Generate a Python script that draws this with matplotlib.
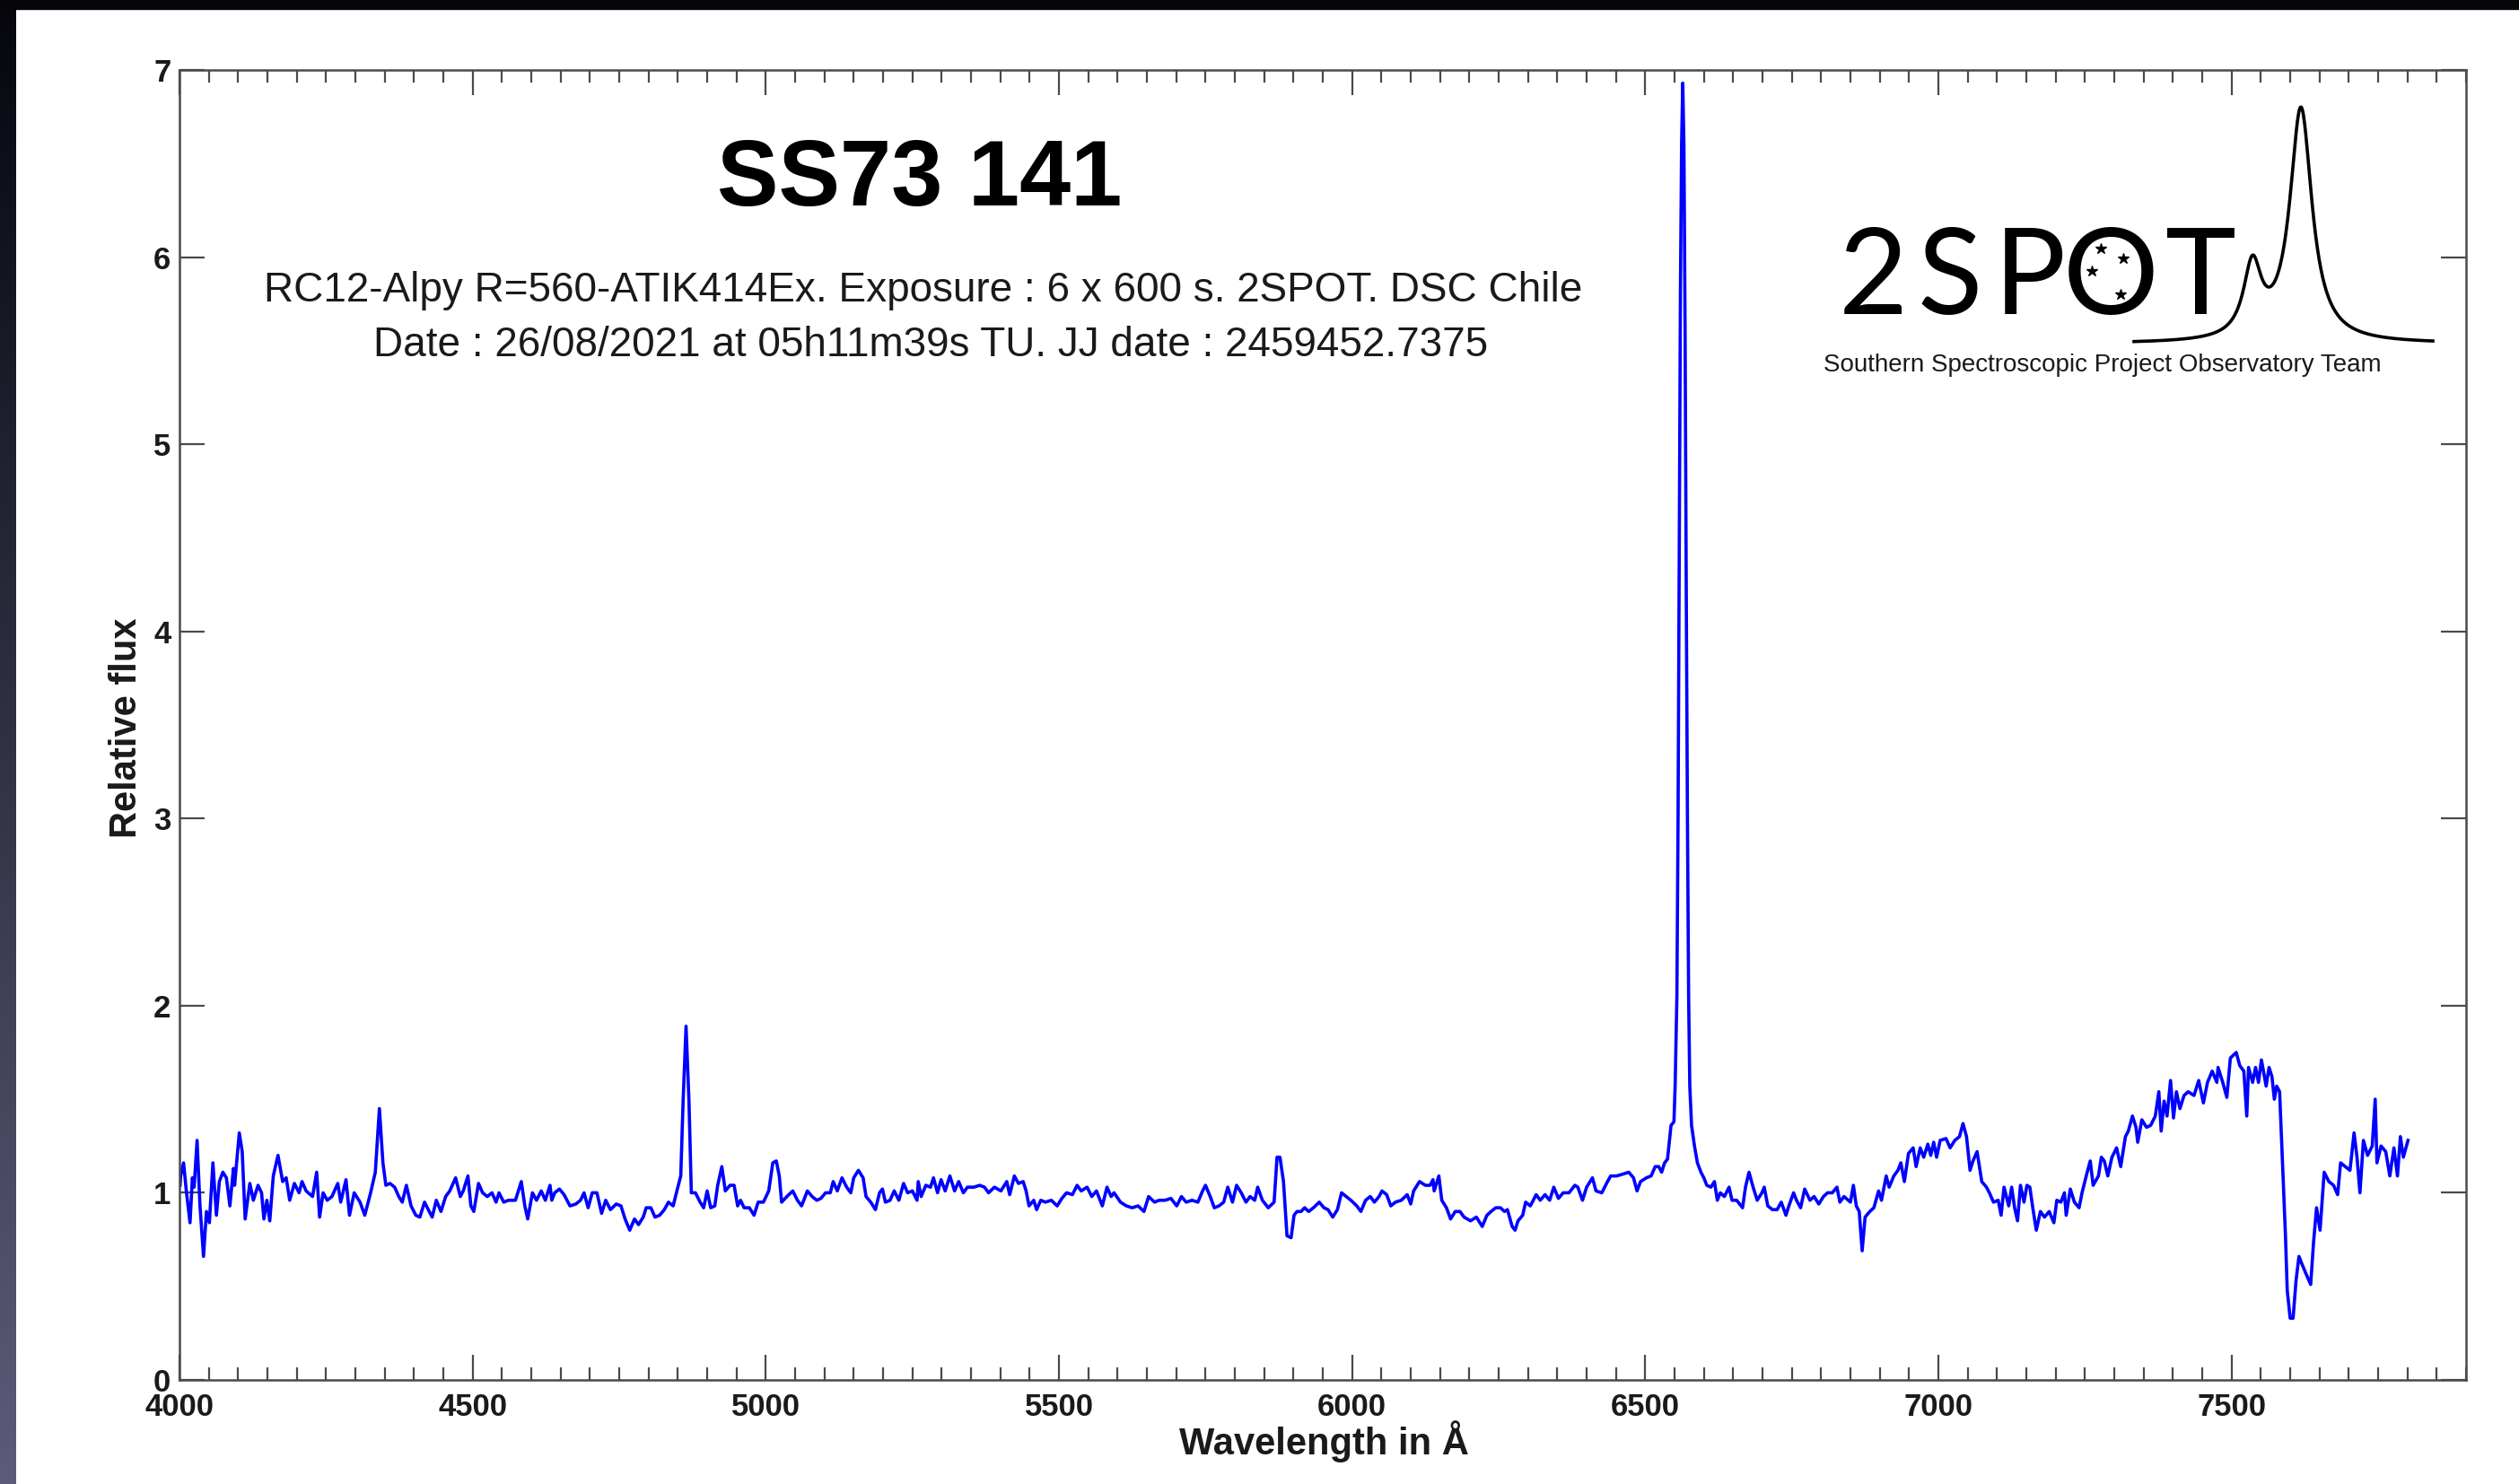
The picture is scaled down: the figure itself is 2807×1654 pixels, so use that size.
import numpy as np
import matplotlib
matplotlib.use("Agg")
import matplotlib.pyplot as plt
from matplotlib.ticker import MultipleLocator

plt.rcParams['font.family'] = ['Liberation Sans', 'DejaVu Sans']

# spectrum (Angstrom, relative flux)
wavelength = [
    4001, 4002, 4007, 4012, 4018, 4022, 4025, 4030, 4035, 4041, 4046, 4051, 4057, 4063, 4068,
    4074, 4080, 4086, 4092, 4094, 4102, 4107, 4112, 4120, 4126, 4134, 4140, 4144, 4149, 4154,
    4160, 4168, 4176, 4182, 4188, 4196, 4204, 4209, 4216, 4227, 4234, 4239, 4245, 4252, 4260,
    4270, 4275, 4284, 4290, 4298, 4308, 4316, 4326, 4334, 4341, 4347, 4352, 4359, 4367, 4374,
    4380, 4387, 4395, 4403, 4410, 4418, 4426, 4431, 4438, 4446, 4454, 4461, 4471, 4479, 4484,
    4492, 4497, 4502, 4510, 4517, 4525, 4533, 4540, 4545, 4553, 4561, 4573, 4583, 4589, 4594,
    4602, 4609, 4617, 4624, 4632,
    4635, 4640, 4648, 4656, 4666, 4676, 4684, 4690, 4697, 4704, 4712, 4720, 4727, 4735, 4745,
    4753, 4760, 4768, 4776, 4783, 4791, 4796, 4804, 4811, 4819, 4827, 4834, 4842, 4850, 4855,
    4859, 4864, 4869, 4873, 4880, 4888, 4894, 4900, 4906, 4913, 4918, 4925, 4931, 4939, 4946,
    4952, 4957, 4963, 4972, 4980, 4987, 4996, 5005, 5012, 5018, 5023, 5027, 5036, 5046, 5054,
    5061, 5071, 5079, 5087, 5094, 5102, 5110, 5115, 5122, 5130, 5138, 5145, 5150, 5158, 5166,
    5171, 5179, 5187, 5194, 5199, 5204, 5212, 5219, 5227, 5235, 5242, 5250, 5258,
    5260, 5265, 5273, 5281, 5286, 5293, 5299, 5306, 5314, 5322, 5329, 5337, 5344, 5355, 5365,
    5373, 5380, 5390, 5401, 5411, 5416, 5424, 5431, 5439, 5444, 5449, 5457, 5462, 5469, 5477,
    5487, 5497, 5505, 5513, 5523, 5531, 5538, 5548, 5556, 5564, 5574, 5582, 5589, 5594, 5605,
    5615, 5625, 5635, 5645, 5653, 5663, 5671, 5681, 5691, 5701, 5709, 5717, 5727, 5737, 5745,
    5750, 5758, 5765, 5773, 5781, 5788, 5796, 5803, 5811, 5819, 5826, 5834, 5839, 5847, 5857,
    5867, 5872, 5877, 5883, 5889,
    5896, 5901, 5906, 5913, 5919, 5926, 5934, 5944, 5952, 5959, 5967, 5975, 5982, 5990, 5998,
    6008, 6015, 6023, 6031, 6038, 6046, 6051, 6059, 6066, 6074, 6084, 6094, 6100, 6105, 6115,
    6125, 6133, 6138, 6140, 6148, 6153, 6161, 6168, 6176, 6184, 6191, 6202, 6212, 6222, 6230,
    6237, 6245, 6253, 6260, 6265, 6273, 6278, 6283, 6291, 6296, 6304, 6314, 6321, 6329, 6337,
    6344, 6352, 6360, 6370, 6380, 6385, 6393, 6400, 6410, 6416, 6426, 6434, 6441, 6451, 6462,
    6472, 6480, 6486, 6492, 6502, 6510, 6517,
    6523, 6528, 6533, 6538, 6544, 6549, 6551, 6554, 6556, 6558, 6560, 6562, 6564, 6566, 6568,
    6570, 6572, 6574, 6576, 6579, 6584, 6589, 6595, 6600, 6605, 6612, 6618, 6623, 6628, 6635,
    6643, 6648, 6656, 6666, 6671, 6677, 6684, 6691, 6699, 6703, 6709, 6717, 6725, 6732, 6740,
    6745, 6753, 6758, 6765, 6772, 6781, 6788, 6796, 6804, 6811, 6819, 6827, 6832, 6839, 6850,
    6855, 6860, 6865, 6870, 6875, 6883, 6890, 6898, 6903, 6911, 6916, 6924, 6931, 6936, 6942,
    6949, 6957, 6962, 6969, 6975, 6982, 6987, 6992, 6997, 7003, 7013, 7020, 7028, 7036, 7042,
    7048, 7054, 7059, 7066, 7074, 7082, 7087, 7094, 7102, 7107, 7112, 7120, 7125, 7130, 7135,
    7140,
    7146, 7151, 7156, 7161, 7167, 7174, 7181, 7189, 7197, 7202, 7209, 7215, 7218, 7225, 7232,
    7240, 7245, 7253, 7259, 7264, 7273, 7278, 7283, 7289, 7296, 7304, 7311, 7319, 7324, 7331,
    7337, 7340, 7347, 7355, 7362, 7370, 7376, 7380, 7385, 7390, 7396, 7401, 7406, 7412, 7419,
    7426, 7436, 7444, 7452, 7459, 7467, 7475, 7477, 7485, 7492, 7498, 7508, 7514, 7521, 7526,
    7529, 7536, 7541, 7546, 7551, 7559, 7564, 7569, 7573, 7577, 7582, 7587, 7592, 7595, 7600,
    7605, 7610, 7615, 7620, 7628, 7635, 7640, 7645, 7651, 7658, 7666, 7674, 7681, 7686, 7694,
    7702, 7709, 7714, 7719, 7725, 7732, 7740, 7745, 7748, 7755, 7763, 7770, 7777, 7783, 7788,
    7793, 7801,
]
flux = [
    1.04, 1.09, 1.16, 1.00, 0.84, 1.08, 1.03, 1.28, 0.93, 0.66, 0.90, 0.84, 1.16, 0.88, 1.06,
    1.11, 1.08, 0.93, 1.13, 1.04, 1.32, 1.22, 0.86, 1.05, 0.96, 1.04, 1.00, 0.86, 0.96, 0.85,
    1.09, 1.20, 1.06, 1.08, 0.96, 1.05, 1.00, 1.06, 1.01, 0.98, 1.11, 0.87, 1.00, 0.96, 0.98,
    1.05, 0.95, 1.07, 0.88, 1.00, 0.95, 0.88, 1.00, 1.11, 1.45, 1.16, 1.04, 1.05, 1.03, 0.98,
    0.95, 1.04, 0.93, 0.88, 0.87, 0.95, 0.90, 0.87, 0.96, 0.90, 0.98, 1.01, 1.08, 0.98, 1.01,
    1.09, 0.93, 0.90, 1.05, 1.00, 0.98, 1.00, 0.95, 1.00, 0.95, 0.96, 0.96, 1.06, 0.93, 0.86,
    1.00, 0.96, 1.01, 0.96, 1.04,
    0.96, 1.00, 1.02, 0.99, 0.93, 0.94, 0.96, 1.00, 0.92, 1.00, 1.00, 0.89, 0.96, 0.91, 0.94,
    0.93, 0.86, 0.80, 0.86, 0.83, 0.87, 0.92, 0.92, 0.87, 0.88, 0.91, 0.95, 0.93, 1.03, 1.09,
    1.49, 1.89, 1.49, 1.00, 1.00, 0.95, 0.92, 1.01, 0.92, 0.93, 1.04, 1.14, 1.01, 1.04, 1.04,
    0.93, 0.96, 0.92, 0.92, 0.88, 0.95, 0.95, 1.01, 1.16, 1.17, 1.09, 0.95, 0.98, 1.01, 0.96,
    0.93, 1.01, 0.98, 0.96, 0.97, 1.00, 1.00, 1.06, 1.01, 1.08, 1.03, 1.00, 1.08, 1.12, 1.08,
    0.98, 0.95, 0.91, 1.00, 1.02, 0.95, 0.96, 1.01, 0.96, 1.05, 1.00, 1.01, 0.96,
    1.06, 0.98, 1.04, 1.03, 1.08, 1.00, 1.07, 1.01, 1.09, 1.01, 1.06, 1.00, 1.03, 1.03, 1.04,
    1.03, 1.00, 1.03, 1.01, 1.06, 0.99, 1.09, 1.05, 1.06, 1.01, 0.93, 0.96, 0.91, 0.96, 0.95,
    0.96, 0.93, 0.97, 1.00, 0.99, 1.04, 1.01, 1.03, 0.98, 1.01, 0.93, 1.03, 0.98, 1.00, 0.95,
    0.93, 0.92, 0.93, 0.90, 0.98, 0.95, 0.96, 0.96, 0.97, 0.93, 0.98, 0.95, 0.96, 0.95, 1.01,
    1.04, 0.98, 0.92, 0.93, 0.95, 1.03, 0.95, 1.04, 1.00, 0.95, 0.98, 0.96, 1.03, 0.96, 0.92,
    0.95, 1.19, 1.19, 1.06, 0.77,
    0.76, 0.88, 0.90, 0.90, 0.92, 0.90, 0.92, 0.95, 0.92, 0.91, 0.87, 0.91, 1.00, 0.98, 0.96,
    0.93, 0.90, 0.96, 0.98, 0.95, 0.98, 1.01, 0.99, 0.93, 0.95, 0.96, 0.99, 0.94, 1.01, 1.06,
    1.04, 1.04, 1.07, 1.01, 1.09, 0.96, 0.92, 0.86, 0.90, 0.90, 0.87, 0.85, 0.87, 0.82, 0.88,
    0.90, 0.92, 0.92, 0.90, 0.91, 0.82, 0.80, 0.85, 0.88, 0.95, 0.93, 0.99, 0.96, 0.99, 0.96,
    1.03, 0.97, 1.00, 1.00, 1.04, 1.03, 0.96, 1.03, 1.08, 1.01, 1.00, 1.05, 1.09, 1.09, 1.10,
    1.11, 1.08, 1.01, 1.06, 1.08, 1.09, 1.14,
    1.14, 1.11, 1.16, 1.18, 1.36, 1.38, 1.57, 2.05, 3.00, 4.40, 5.80, 6.60, 6.93, 6.60, 5.60,
    4.20, 3.00, 2.05, 1.57, 1.36, 1.25, 1.16, 1.11, 1.08, 1.04, 1.03, 1.06, 0.96, 1.00, 0.98,
    1.03, 0.96, 0.96, 0.92, 1.03, 1.11, 1.03, 0.96, 1.00, 1.03, 0.93, 0.91, 0.91, 0.95, 0.88,
    0.93, 1.00, 0.96, 0.92, 1.02, 0.96, 0.98, 0.94, 0.98, 1.00, 1.00, 1.03, 0.95, 0.98, 0.95,
    1.04, 0.93, 0.90, 0.69, 0.87, 0.90, 0.92, 1.01, 0.96, 1.09, 1.03, 1.09, 1.12, 1.16, 1.06,
    1.21, 1.24, 1.14, 1.24, 1.19, 1.26, 1.20, 1.27, 1.19, 1.28, 1.29, 1.24, 1.28, 1.30, 1.37,
    1.30, 1.12, 1.17, 1.22, 1.06, 1.03, 1.00, 0.95, 0.96, 0.88, 1.03, 0.93, 1.03, 0.92, 0.85,
    1.04,
    0.95, 1.04, 1.03, 0.92, 0.80, 0.90, 0.87, 0.90, 0.84, 0.96, 0.95, 1.00, 0.88, 1.02, 0.95,
    0.92, 1.00, 1.10, 1.17, 1.04, 1.09, 1.19, 1.17, 1.09, 1.19, 1.24, 1.14, 1.30, 1.33, 1.41,
    1.35, 1.27, 1.39, 1.35, 1.36, 1.41, 1.54, 1.33, 1.49, 1.41, 1.60, 1.40, 1.54, 1.45, 1.52,
    1.54, 1.52, 1.60, 1.48, 1.59, 1.65, 1.59, 1.67, 1.59, 1.51, 1.72, 1.75, 1.68, 1.65, 1.41,
    1.67, 1.59, 1.67, 1.59, 1.71, 1.57, 1.67, 1.62, 1.50, 1.57, 1.54, 1.16, 0.77, 0.48, 0.33,
    0.33, 0.53, 0.66, 0.62, 0.56, 0.51, 0.74, 0.92, 0.80, 1.11, 1.06, 1.04, 0.99, 1.16, 1.14,
    1.12, 1.32, 1.19, 1.00, 1.28, 1.20, 1.25, 1.50, 1.16, 1.25, 1.22, 1.09, 1.24, 1.09, 1.30,
    1.19, 1.28,
]

title = "SS73 141"
info_lines = [
    "RC12-Alpy R=560-ATIK414Ex. Exposure : 6 x 600 s. 2SPOT. DSC Chile",
    "Date : 26/08/2021 at 05h11m39s TU. JJ date : 2459452.7375",
]
logo_letters = ["2", "S", "P", "O", "T"]
logo_team = "Southern Spectroscopic Project Observatory Team"

W, H = 2807, 1654
fig = plt.figure(figsize=(W / 100, H / 100), dpi=100)

# dark screen border (left gradient + top strip)
bax = fig.add_axes([0, 0, 18 / W, 1])
shade = np.linspace(0, 1, 200)[:, None]
top_c = np.array([6, 6, 14]) / 255
bot_c = np.array([92, 92, 122]) / 255
grad = (top_c + (bot_c - top_c) * shade).reshape(200, 1, 3)
bax.imshow(grad, aspect='auto')
bax.axis('off')
fig.add_artist(plt.Rectangle((0, 1 - 10 / H), 1, 10 / H, transform=fig.transFigure,
                             color='#05050a', zorder=5))

ax = fig.add_axes([200 / W, 116 / H, 2548 / W, 1460 / H])
ax.plot(wavelength, flux, color='#0000ff', lw=2.6)
ax.set_xlim(4000, 7900)
ax.set_ylim(0, 7)
ax.xaxis.set_major_locator(MultipleLocator(500))
ax.xaxis.set_minor_locator(MultipleLocator(50))
ax.yaxis.set_major_locator(MultipleLocator(1))
ax.tick_params(which='both', direction='in', top=True, right=True,
               color='#4a4a4a', width=1.6, labelcolor='#1a1a1a')
ax.tick_params(which='major', length=20, labelsize=25)
ax.tick_params(which='minor', length=10)
ax.tick_params(axis='x', pad=10)
ax.tick_params(axis='y', pad=7)
for lab in ax.get_xticklabels() + ax.get_yticklabels():
    lab.set_fontweight('bold')
for s in ax.spines.values():
    s.set_color('#4a4a4a')
    s.set_linewidth(1.8)

fig.text(141 / W, 1 - 811 / H, "Relative flux", rotation=90, fontsize=30,
         fontweight='bold', ha='center', va='center', color='#1a1a1a')
fig.text(1475 / W, 1 - 1607 / H, "Wavelength in Å", fontsize=30,
         fontweight='bold', ha='center', va='center', color='#1a1a1a')

fig.text(1025 / W, 1 - 229 / H, title, fontsize=74, fontweight='bold',
         ha='center', va='baseline')
fig.text(1029 / W, 1 - 336 / H, info_lines[0], fontsize=33, ha='center',
         va='baseline', color='#1a1a1a')
fig.text(1037 / W, 1 - 397 / H, info_lines[1], fontsize=33, ha='center',
         va='baseline', color='#1a1a1a')

# 2SPOT logo, drawn in pixel coordinates
lax = fig.add_axes([0, 0, 1, 1], zorder=4)
lax.set_xlim(0, W)
lax.set_ylim(H, 0)
lax.axis('off')
for ch, cx in zip(logo_letters, [2087, 2173, 2262, 2352, 2452]):
    lax.text(cx, 350, ch, fontsize=96, family=['Lato', 'DejaVu Sans'],
             ha='center', va='baseline', color='black')
lx = np.linspace(2378, 2711, 500)
ly = 383 - (260 / (1 + ((lx - 2564) / 15) ** 2) + 80 / (1 + ((lx - 2510) / 12) ** 2))
lax.plot(lx, ly, color='black', lw=2.6)
lax.plot([2341, 2366, 2331, 2363], [277, 288, 302, 328], ls='none', marker='*',
         ms=9, color='black')
lax.text(2343, 407, logo_team, fontsize=20, ha='center', va='center', color='#1a1a1a')

fig.savefig("out.png", dpi=100)
